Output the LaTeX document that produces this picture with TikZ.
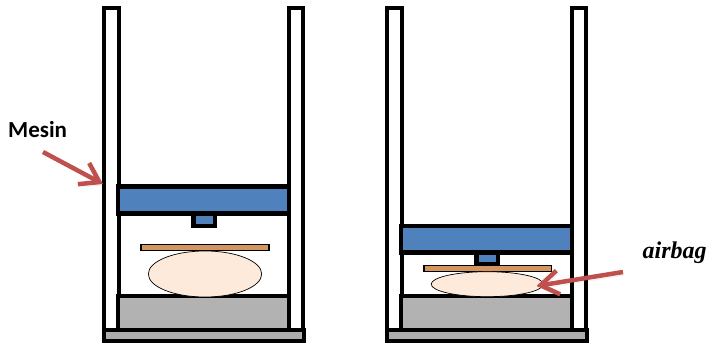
\documentclass[tikz,border=0pt]{standalone}
\usepackage{fontspec}
\setmainfont{Carlito}
\newfontfamily\labelserif{Liberation Serif}
\usetikzlibrary{positioning,arrows.meta}
\definecolor{plateblue}{RGB}{79,129,189}
\definecolor{wood}{RGB}{212,150,96}
\definecolor{bagskin}{RGB}{253,234,218}
\definecolor{arrowred}{RGB}{192,80,77}
\tikzset{
  frame/.style={draw=black, line width=4.5pt, fill=#1},
  frame/.default={white},
  board/.style={draw=black, line width=1.5pt, fill=wood},
  bag/.style={draw=black, line width=0.7pt, fill=bagskin},
  callout/.style={-{Straight Barb[length=18pt,width=24pt]}, line width=4.5pt, draw=arrowred,
    preaction={draw=black, opacity=0.1, transform canvas={shift={(2pt,-3pt)}}}},
  lbl/.style={inner sep=0pt, anchor=base west}
}
\begin{document}
\begin{tikzpicture}[x=1pt,y=-1pt]
    \useasboundingbox (0,0) rectangle (712,344);
    % the two frames
    \foreach \dx in {0,283} {
      \begin{scope}[xshift=\dx pt]
        \draw[frame] (104,8) rectangle (119,330);
        \draw[frame] (289,8) rectangle (303,330);
        \draw[frame={gray!60}] (118,296) rectangle (289,330);
        \draw[frame={black!32}] (104,330) rectangle (304,341);
      \end{scope}
    }
    % left press, open
    \draw[frame=plateblue] (193.5,214) rectangle (215,226);
    \draw[frame=plateblue] (118,186.5) rectangle (289,213.5);
    \draw[board] (141,244.5) rectangle (269,250.5);
    \draw[bag] (205,274) ellipse (56.7 and 23);
    % right press, closed
    \draw[frame=plateblue] (476.5,252) rectangle (498,264);
    \draw[frame=plateblue] (401,226) rectangle (572,252.5);
    \draw[board] (424,265.5) rectangle (551.5,271.5);
    \draw[bag] (487.2,284.2) ellipse (56 and 12.5);
    % labels and their arrows
    \node[lbl, font=\fontsize{23}{26}\selectfont\bfseries] (mesin) at (8,138) {Mesin};
    \node[lbl, font=\fontsize{24}{27}\selectfont\labelserif\bfseries\itshape] (airbag) at (642.5,259) {airbag};
    \coordinate (mesintail) at (43,152);
    \coordinate (frametip) at (103,184);
    \coordinate (airbagtail) at (623,272);
    \coordinate (bagtip) at (536.5,286);
    \draw[callout] (mesintail) -- (frametip);
    \draw[callout] (airbagtail) -- (bagtip);
  \end{tikzpicture}
\end{document}
